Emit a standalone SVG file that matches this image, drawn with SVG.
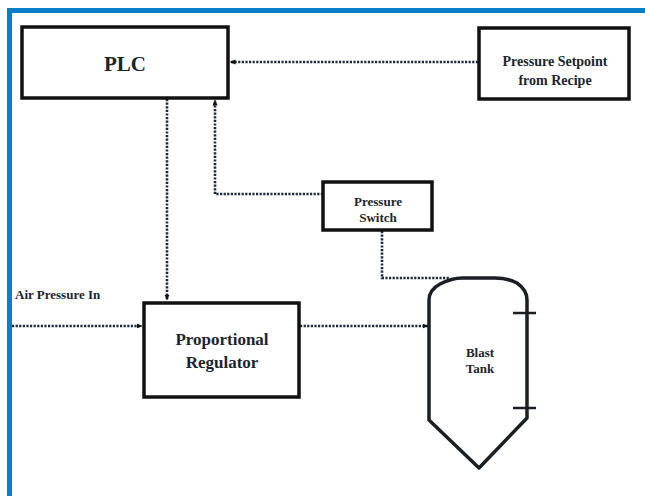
<svg xmlns="http://www.w3.org/2000/svg" width="645" height="496" viewBox="0 0 645 496">
<style>
.box{fill:#fff;stroke:#111;stroke-width:3.5}
.tank{fill:#fff;stroke:#1a1f24;stroke-width:3.5;stroke-linejoin:round}
.dot{fill:none;stroke:#1a2a3a;stroke-width:2.6;stroke-dasharray:2.2 1.4}
.lbl{font-family:"Liberation Serif",serif;font-weight:bold;fill:#1a2530;text-anchor:middle}
</style>
<defs>
<marker id="ah" viewBox="0 0 6 6" refX="5.5" refY="3" markerWidth="6" markerHeight="6" markerUnits="userSpaceOnUse" orient="auto">
<path d="M0,0.5 L6,3 L0,5.5 Z" fill="#111"/>
</marker>
</defs>
<rect x="0" y="0" width="645" height="496" fill="#fff"/>
<path d="M9.5,496 V10.5 H645" fill="none" stroke="#0a7fc8" stroke-width="5"/>
<g id="connectors">
<path class="dot" d="M478,62 H230" marker-end="url(#ah)"/>
<path class="dot" d="M167,99 V300" marker-end="url(#ah)"/>
<path class="dot" d="M323,194 H215 V100" marker-end="url(#ah)"/>
<path class="dot" d="M382,231 V278 H449"/>
<path class="dot" d="M12,326 H142" marker-end="url(#ah)"/>
<path class="dot" d="M300,326 H428" marker-end="url(#ah)"/>
</g>
<g id="plc">
<rect class="box" x="22" y="27" width="206" height="71"/>
<text class="lbl" x="125" y="71" font-size="21">PLC</text>
</g>
<g id="setpoint">
<rect class="box" x="479" y="28" width="150" height="71"/>
<text class="lbl" x="555" y="66" font-size="14">Pressure Setpoint</text>
<text class="lbl" x="555" y="85" font-size="14">from Recipe</text>
</g>
<g id="switch">
<rect class="box" x="323" y="182" width="109" height="48"/>
<text class="lbl" x="378" y="206" font-size="13">Pressure</text>
<text class="lbl" x="378" y="222" font-size="13">Switch</text>
</g>
<g id="air-label">
<text x="15" y="299" font-family="'Liberation Serif',serif" font-weight="bold" font-size="13" fill="#1a2530">Air Pressure In</text>
</g>
<g id="regulator">
<rect class="box" x="144" y="303" width="155" height="94"/>
<text class="lbl" x="222" y="345" font-size="17">Proportional</text>
<text class="lbl" x="222" y="368" font-size="17">Regulator</text>
</g>
<g id="tank">
<path class="tank" d="M429,420 V300 Q429,290 440,284 Q452,278 462,278 H495 Q507,278 517,283 Q527,290 527,300 V418 L479,468 Z"/>
<path d="M513,313 H536 M513,408 H536" stroke="#1a1f24" stroke-width="2.5"/>
<text class="lbl" x="480" y="357" font-size="13">Blast</text>
<text class="lbl" x="480" y="373" font-size="13">Tank</text>
</g>
</svg>
